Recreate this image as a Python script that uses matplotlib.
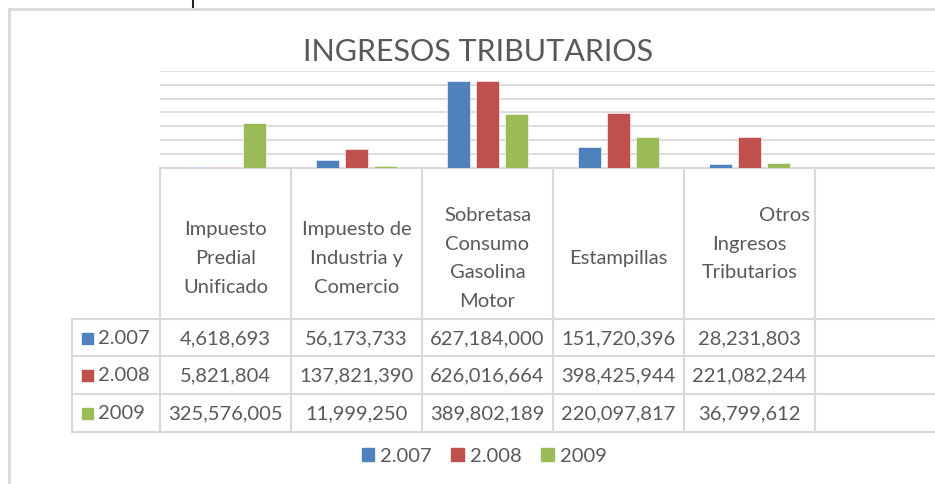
import matplotlib.pyplot as plt
import numpy as np
from matplotlib.patches import Rectangle

plt.rcParams['font.family'] = ['Lato', 'DejaVu Sans']

categorias = ['Impuesto\nPredial\nUnificado', 'Impuesto de\nIndustria y\nComercio',
              'Sobretasa\nConsumo\nGasolina\nMotor', 'Estampillas',
              'Otros\nIngresos\nTributarios']
series = ['2.007', '2.008', '2009']
v2007 = [4618693, 56173733, 627184000, 151720396, 28231803]
v2008 = [5821804, 137821390, 626016664, 398425944, 221082244]
v2009 = [325576005, 11999250, 389802189, 220097817, 36799612]
colores = ['#4F81BD', '#C0504D', '#9BBB59']

W, H = 935, 485
fig = plt.figure(figsize=(W / 100, H / 100), dpi=100)
gris = '#d9d9d9'
texto = '#595959'

# overlay in pixel coords for frame/table
ov = fig.add_axes([0, 0, 1, 1])
ov.set_xlim(0, W)
ov.set_ylim(H, 0)
ov.axis('off')

# bar area
x0, x1, ytop, ybot = 160, 935, 71.7, 169
colw = 131
ax = fig.add_axes([x0 / W, 1 - ybot / H, (x1 - x0) / W, (ybot - ytop) / H])
x = np.arange(len(categorias))
for k, vals in enumerate([v2007, v2008, v2009]):
    ax.bar(x + (k - 1) * 0.22, vals, width=0.175, color=colores[k],
           label=series[k], zorder=3, edgecolor='white', linewidth=0.4)
ax.set_xlim(-0.5, -0.5 + (x1 - x0) / colw)
ax.set_ylim(0, 700e6)
ax.set_yticks(np.arange(0, 700e6 + 1, 100e6))
ax.grid(axis='y', color=gris, linewidth=1.3, zorder=0)
ax.tick_params(left=False, bottom=False, labelleft=False, labelbottom=False)
for s in ax.spines.values():
    s.set_visible(False)
ax.patch.set_alpha(0)

# outer frame
ov.plot([9, 9], [10, H], color=gris, lw=2)
ov.plot([9, W], [10, 10], color=gris, lw=2)
ov.plot([193, 193], [0, 8], color='#222222', lw=1.5)

# title
fig.text(478 / W, 1 - 52 / H, 'INGRESOS TRIBUTARIOS', ha='center', va='center',
         fontsize=22, color=texto)

# table
rows_y = [320, 357, 395, 433]
ov.plot([x0, W], [ybot, ybot], color=gris, lw=1.5)
for yy in rows_y:
    ov.plot([72, W], [yy, yy], color=gris, lw=1.5)
ov.plot([72, 72], [320, 433], color=gris, lw=1.5)
for i in range(len(categorias) + 2):
    xx = x0 + i * colw
    if xx < W:
        ov.plot([xx, xx], [ybot, 433], color=gris, lw=1.5)

fs = 14.5
ls = 1.84
for i, cat in enumerate(categorias):
    cx = x0 + (i + 0.5) * colw
    if cat.startswith('Otros'):
        lines = cat.split('\n')
        ov.text(x0 + (i + 1) * colw - 5, 216, lines[0], ha='right', va='center',
                fontsize=fs, color=texto)
        ov.text(cx, 258.5, '\n'.join(lines[1:]), ha='center', va='center',
                fontsize=fs, color=texto, linespacing=ls)
    else:
        ov.text(cx, 258.5, cat, ha='center', va='center', fontsize=fs,
                color=texto, linespacing=ls)

for r, vals in enumerate([v2007, v2008, v2009]):
    cy = (rows_y[r] + rows_y[r + 1]) / 2
    ov.add_patch(Rectangle((82, cy - 5), 11, 11, color=colores[r]))
    ov.text(98, cy, series[r], ha='left', va='center', fontsize=fs, color=texto)
    for i, v in enumerate(vals):
        ov.text(x0 + (i + 0.5) * colw, cy, f'{v:,}', ha='center', va='center',
                fontsize=fs, color=texto)

# legend
handles = [Rectangle((0, 0), 1, 1, color=c) for c in colores]
fig.legend(handles, series, loc='center', bbox_to_anchor=(484 / W, 1 - 457 / H),
           ncol=3, frameon=False, fontsize=fs, handlelength=0.6, handleheight=0.6,
           handletextpad=0.3, columnspacing=1.0, labelcolor=texto)

fig.savefig('out.png', dpi=100)
